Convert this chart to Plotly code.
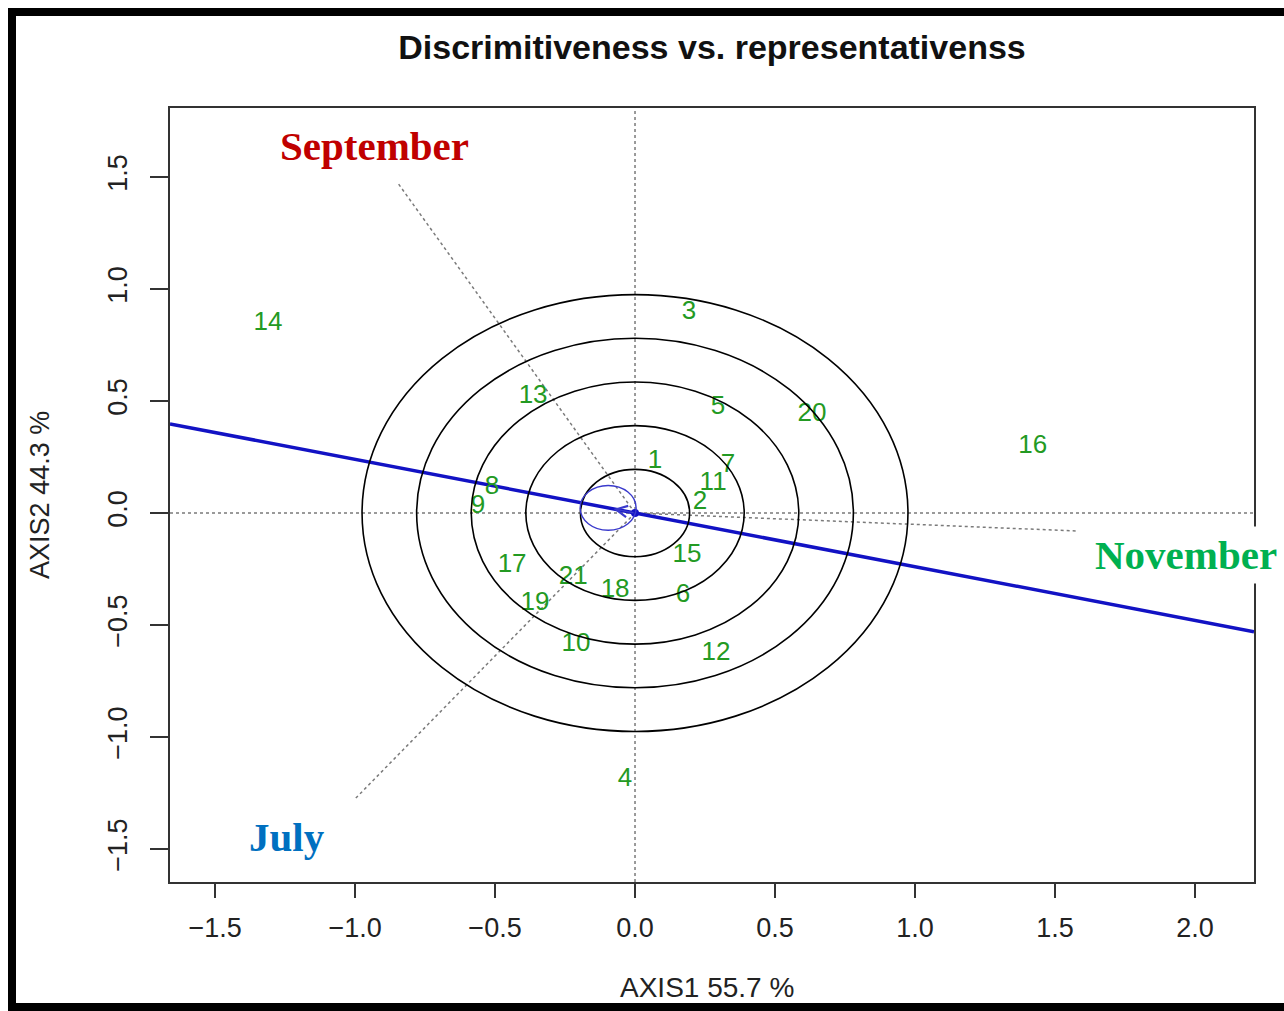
import plotly.graph_objects as go

# Genotype scores on the first two GGE axes
genotypes = [str(i) for i in range(1, 22)]
axis1 = [0.071, 0.232, 0.193, -0.036, 0.296, 0.171, 0.332, -0.511, -0.561, -0.211,
         0.279, 0.289, -0.364, -1.311, 0.186, 1.421, -0.439, -0.071, -0.357, 0.632, -0.221]
axis2 = [0.228, 0.045, 0.893, -1.188, 0.469, -0.366, 0.214, 0.112, 0.027, -0.585,
         0.134, -0.625, 0.518, 0.848, -0.188, 0.295, -0.232, -0.344, -0.402, 0.442, -0.286]

# Environment vectors (end points)
environments = ["September", "July", "November"]
env_x = [-0.85, -1.004, 1.575]
env_y = [1.478, -1.281, -0.080]
env_colors = ["#C00000", "#0070C0", "#00B050"]
env_label_x = [-0.929, -1.243, 1.968]
env_label_y = [1.638, -1.446, -0.1875]

# Average environment coordinate and concentric circle radii
aec = (-0.096, 0.023)
aec_radius = 0.1
ring_radii = [0.195, 0.39, 0.585, 0.78, 0.975]

x_range = [-1.661, 2.211]
y_range = [-1.647, 1.808]
tick_vals = [-1.5, -1.0, -0.5, 0.0, 0.5, 1.0, 1.5, 2.0]

fig = go.Figure()

dot_line = dict(color="#7a7a7a", width=1.5, dash="dot")

# Reference axes through the origin
fig.add_trace(go.Scatter(x=x_range, y=[0, 0], mode="lines", line=dot_line,
                         hoverinfo="skip", showlegend=False))
fig.add_trace(go.Scatter(x=[0, 0], y=y_range, mode="lines", line=dot_line,
                         hoverinfo="skip", showlegend=False))

# Environment vectors
for ex, ey in zip(env_x, env_y):
    fig.add_trace(go.Scatter(x=[0, ex], y=[0, ey], mode="lines", line=dot_line,
                             hoverinfo="skip", showlegend=False))

# Concentric circles around the origin
for r in ring_radii:
    fig.add_shape(type="circle", xref="x", yref="y", x0=-r, x1=r, y0=-r, y1=r,
                  line=dict(color="black", width=1.6), layer="above")

# AEC abscissa through the origin and the AEC point
slope = aec[1] / aec[0]
fig.add_trace(go.Scatter(x=x_range, y=[slope * x_range[0], slope * x_range[1]], mode="lines",
                         line=dict(color="#1212C4", width=3.5),
                         hoverinfo="skip", showlegend=False))

# Small circle around the AEC
fig.add_shape(type="circle", xref="x", yref="y",
              x0=aec[0] - aec_radius, x1=aec[0] + aec_radius,
              y0=aec[1] - aec_radius, y1=aec[1] + aec_radius,
              line=dict(color="#3a3acc", width=1.4), layer="above")

# Arrow from the origin to the AEC
fig.add_annotation(x=aec[0] * 0.8, y=aec[1] * 0.8, ax=0, ay=0, axref="x", ayref="y",
                   xref="x", yref="y", text="", showarrow=True,
                   arrowhead=5, arrowsize=1.6, arrowwidth=1.4, arrowcolor="#3a3acc")

# Origin point
fig.add_trace(go.Scatter(x=[0], y=[0], mode="markers",
                         marker=dict(color="#1212C4", size=8),
                         hoverinfo="skip", showlegend=False))

# Genotype labels
fig.add_trace(go.Scatter(x=axis1, y=axis2, mode="text", text=genotypes,
                         textposition="middle center",
                         textfont=dict(family="Liberation Sans, Arial, sans-serif",
                                       size=26, color="#239a23"),
                         hoverinfo="text", showlegend=False))

# Environment names
for name, lx, ly, col in zip(environments, env_label_x, env_label_y, env_colors):
    fig.add_annotation(x=lx, y=ly, xref="x", yref="y", text=f"<b>{name}</b>",
                       showarrow=False, bgcolor="white", borderpad=5,
                       font=dict(family="Liberation Serif, DejaVu Serif, serif",
                                 size=41, color=col))

# Axis titles
fig.add_annotation(x=0.495, y=-0.136, xref="paper", yref="paper", text="AXIS1 55.7 %",
                   showarrow=False, yanchor="middle",
                   font=dict(family="Liberation Sans, Arial, sans-serif", size=28, color="#222"))
fig.add_annotation(x=-0.120, y=0.5, xref="paper", yref="paper", text="AXIS2 44.3 %",
                   showarrow=False, textangle=-90, xanchor="center",
                   font=dict(family="Liberation Sans, Arial, sans-serif", size=27, color="#222"))

# Outer frame of the figure
L, T, R, B = 170, 108, 1254, 882
W, H = R - L, B - T


def px_x(p):
    return (p - L) / W


def px_y(p):
    return (B - p) / H


frame_bands = [
    (8, 8, 16, 1011),      # left
    (8, 8, 1284, 16),      # top
    (8, 1003, 1284, 1011), # bottom
]
for x0, y0, x1, y1 in frame_bands:
    fig.add_shape(type="rect", xref="paper", yref="paper",
                  x0=px_x(x0), x1=px_x(x1), y0=px_y(y1), y1=px_y(y0),
                  fillcolor="black", line=dict(width=0), layer="above")

axis_font = dict(family="Liberation Sans, Arial, sans-serif", size=27, color="#222")
fig.update_xaxes(range=x_range, tickvals=tick_vals, tickformat=".1f",
                 showgrid=False, zeroline=False, showline=True, mirror=True,
                 linecolor="#333", linewidth=1.6, ticks="outside", ticklen=14,
                 tickwidth=1.6, tickcolor="#333", tickfont=axis_font,
                 ticklabelstandoff=7)
fig.update_yaxes(range=y_range, tickvals=tick_vals[:-1], tickformat=".1f",
                 showgrid=False, zeroline=False, showline=True, mirror=True,
                 linecolor="#333", linewidth=1.6, ticks="outside", ticklen=18,
                 tickwidth=1.6, tickcolor="#333", tickfont=axis_font, tickangle=-90,
                 ticklabelstandoff=12)

fig.update_layout(
    width=1284, height=1011,
    margin=dict(l=L, r=1284 - R, t=T, b=1011 - B),
    paper_bgcolor="white", plot_bgcolor="white",
    title=dict(text="<b>Discrimitiveness vs. representativenss</b>",
               x=712 / 1284, xanchor="center", y=1 - 47 / 1011, yanchor="middle",
               font=dict(family="Liberation Sans, Arial, sans-serif", size=34, color="#111")),
    showlegend=False,
)

fig.write_html("out.html")
